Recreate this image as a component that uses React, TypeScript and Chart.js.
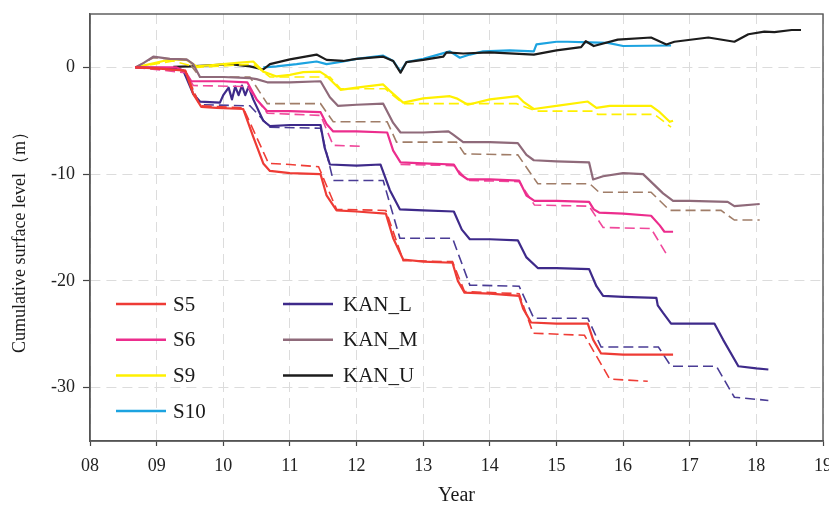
import React, { useEffect, useRef } from "react";
import { Chart, registerables } from "chart.js";

Chart.register(...registerables);

type P = [number, number | null];

// x = year offset (8 => 2008), y = cumulative surface level (m)
const S5: P[] = [[8.68,0],[9.0,-0.1],[9.43,-0.3],[9.55,-2.5],[9.67,-3.7],[9.9,-3.8],[10.3,-3.9],[10.45,-6.5],[10.6,-9.0],[10.7,-9.7],[11.0,-9.9],[11.46,-10.0],[11.55,-12.0],[11.7,-13.4],[12.0,-13.5],[12.44,-13.7],[12.55,-16.0],[12.7,-18.0],[13.0,-18.2],[13.44,-18.3],[13.52,-20.0],[13.62,-21.1],[14.0,-21.2],[14.44,-21.4],[14.5,-22.6],[14.62,-23.9],[15.0,-24.0],[15.47,-24.0],[15.55,-25.5],[15.67,-26.8],[16.0,-26.9],[16.75,-26.9]];
const S5_MODEL: P[] = [[8.68,0],[9.43,-0.3],[9.65,-3.6],[10.3,-3.8],[10.68,-9.0],[11.0,-9.1],[11.43,-9.3],[11.7,-13.3],[12.44,-13.4],[12.7,-18.1],[13.44,-18.2],[13.62,-21.0],[14.44,-21.2],[14.65,-24.9],[15.42,-25.1],[15.8,-29.2],[16.37,-29.4]];

const S6: P[] = [[8.68,0],[9.3,0],[9.43,-0.4],[9.52,-1.3],[10.0,-1.3],[10.36,-1.4],[10.5,-3.0],[10.66,-4.1],[11.0,-4.1],[11.46,-4.2],[11.55,-5.3],[11.65,-6.0],[12.0,-6.0],[12.46,-6.1],[12.55,-7.8],[12.66,-8.9],[13.0,-9.0],[13.46,-9.1],[13.55,-10.0],[13.67,-10.5],[14.0,-10.5],[14.44,-10.6],[14.55,-12.0],[14.67,-12.5],[15.0,-12.5],[15.49,-12.6],[15.56,-13.3],[15.64,-13.6],[16.0,-13.7],[16.42,-13.9],[16.55,-14.8],[16.62,-15.4],[16.75,-15.4]];
const S6_MODEL: P[] = [[8.68,0],[9.43,-0.5],[9.55,-1.7],[10.36,-1.8],[10.66,-4.3],[11.46,-4.5],[11.65,-7.3],[12.1,-7.4],[12.3,null],[12.66,-9.1],[13.46,-9.2],[13.67,-10.6],[14.44,-10.7],[14.67,-12.9],[15.49,-13.0],[15.7,-15.0],[16.42,-15.1],[16.68,-17.8]];

const S9: P[] = [[8.68,0],[8.9,0.3],[9.1,0.6],[9.25,0.75],[9.45,0.7],[9.6,0.1],[9.8,0.2],[10.0,0.3],[10.25,0.45],[10.45,0.55],[10.6,-0.4],[10.8,-0.85],[11.0,-0.7],[11.2,-0.45],[11.45,-0.4],[11.55,-0.8],[11.76,-2.1],[12.0,-1.9],[12.4,-1.6],[12.5,-2.2],[12.7,-3.3],[13.0,-2.9],[13.4,-2.7],[13.5,-2.9],[13.67,-3.5],[14.0,-3.0],[14.42,-2.7],[14.5,-3.2],[14.66,-3.9],[15.0,-3.6],[15.47,-3.2],[15.6,-3.8],[15.8,-3.6],[16.42,-3.6],[16.55,-4.2],[16.7,-5.1],[16.75,-5.0]];
const S9_MODEL: P[] = [[8.68,0],[9.25,0.6],[9.6,0.0],[10.45,0.3],[10.7,-0.9],[11.6,-0.9],[11.76,-2.0],[12.43,-2.0],[12.7,-3.4],[14.4,-3.4],[14.7,-4.1],[15.55,-4.1],[15.62,-4.4],[16.47,-4.4],[16.72,-5.6]];

const S10: P[] = [[10.6,0],[10.8,0.1],[11.1,0.3],[11.4,0.55],[11.55,0.3],[11.76,0.5],[12.0,0.8],[12.4,1.1],[12.55,0.6],[12.66,-0.4],[12.75,0.5],[13.0,0.8],[13.4,1.5],[13.55,0.9],[13.7,1.2],[13.9,1.5],[14.3,1.6],[14.66,1.5],[14.7,2.15],[15.0,2.4],[15.17,2.4],[15.5,2.35],[15.77,2.3],[16.0,2.0],[16.72,2.05]];

const KAN_L: P[] = [[8.68,0],[9.3,-0.1],[9.4,-0.3],[9.55,-2.5],[9.65,-3.2],[9.95,-3.3],[10.0,-2.6],[10.08,-1.9],[10.13,-3.0],[10.18,-1.8],[10.23,-2.6],[10.28,-1.7],[10.33,-2.6],[10.38,-1.8],[10.45,-3.0],[10.6,-5.0],[10.7,-5.5],[11.0,-5.4],[11.46,-5.4],[11.52,-7.5],[11.6,-9.1],[12.0,-9.2],[12.36,-9.1],[12.5,-11.5],[12.65,-13.3],[13.0,-13.4],[13.46,-13.5],[13.58,-15.2],[13.7,-16.1],[14.0,-16.1],[14.42,-16.2],[14.55,-17.8],[14.72,-18.8],[15.0,-18.8],[15.49,-18.9],[15.6,-20.5],[15.7,-21.4],[16.0,-21.5],[16.5,-21.6],[16.52,-22.3],[16.6,-23.0],[16.72,-24.0],[17.0,-24.0],[17.37,-24.0],[17.5,-25.5],[17.73,-28.0],[18.0,-28.2],[18.18,-28.3]];
const KAN_L_MODEL: P[] = [[8.68,0],[9.4,-0.3],[9.65,-3.5],[10.4,-3.6],[10.7,-5.6],[11.46,-5.7],[11.65,-10.6],[12.4,-10.6],[12.65,-16.0],[13.44,-16.0],[13.7,-20.4],[14.44,-20.5],[14.66,-23.5],[15.47,-23.5],[15.67,-26.2],[16.53,-26.2],[16.72,-28.0],[17.4,-28.0],[17.67,-30.9],[18.18,-31.2]];

const KAN_M: P[] = [[8.68,0],[8.8,0.4],[8.95,1.0],[9.2,0.8],[9.45,0.75],[9.55,0.3],[9.65,-0.9],[10.0,-0.9],[10.4,-1.0],[10.5,-1.1],[10.66,-1.4],[11.0,-1.4],[11.46,-1.3],[11.6,-2.8],[11.72,-3.6],[12.0,-3.5],[12.4,-3.4],[12.55,-5.2],[12.66,-6.1],[13.0,-6.1],[13.38,-6.0],[13.45,-6.3],[13.6,-7.0],[14.0,-7.0],[14.42,-7.1],[14.55,-8.2],[14.66,-8.7],[15.0,-8.8],[15.49,-8.9],[15.55,-10.5],[15.7,-10.2],[16.0,-9.9],[16.3,-10.0],[16.6,-11.8],[16.75,-12.5],[17.0,-12.5],[17.57,-12.6],[17.67,-13.0],[18.05,-12.8]];
const KAN_M_MODEL: P[] = [[8.68,0],[8.95,0.9],[9.45,0.7],[9.65,-0.9],[10.4,-0.9],[10.66,-3.4],[11.46,-3.4],[11.65,-5.1],[12.46,-5.1],[12.6,-7.0],[13.5,-7.0],[13.62,-8.1],[14.42,-8.2],[14.72,-10.9],[15.5,-10.9],[15.64,-11.7],[16.42,-11.7],[16.7,-13.4],[17.47,-13.4],[17.67,-14.3],[18.05,-14.3]];

const KAN_U: P[] = [[9.25,0.05],[9.5,0.1],[9.8,0.2],[10.1,0.3],[10.4,0.1],[10.6,-0.2],[10.7,0.3],[11.0,0.75],[11.4,1.2],[11.55,0.7],[11.8,0.6],[12.0,0.8],[12.4,1.0],[12.55,0.6],[12.66,-0.5],[12.75,0.5],[13.0,0.7],[13.3,1.0],[13.35,1.4],[13.6,1.3],[14.0,1.4],[14.66,1.2],[15.0,1.6],[15.37,1.9],[15.44,2.45],[15.56,2.0],[15.92,2.6],[16.42,2.8],[16.65,2.15],[16.77,2.4],[17.28,2.8],[17.67,2.4],[17.88,3.1],[18.12,3.35],[18.27,3.3],[18.53,3.5],[18.67,3.5]];

const X_TICKS = [8, 9, 10, 11, 12, 13, 14, 15, 16, 17, 18, 19];
const X_TICK_LABELS = ["08", "09", "10", "11", "12", "13", "14", "15", "16", "17", "18", "19"];
const Y_TICKS = [-30, -20, -10, 0];

const LEGEND_NAMES = ["S5", "S6", "S9", "S10", "KAN_L", "KAN_M", "KAN_U"];
const COLORS: Record<string, string> = {
  S5: "#ee3b35",
  S6: "#ec2d8d",
  S9: "#fff000",
  S10: "#1ca3e0",
  KAN_L: "#3e2a8a",
  KAN_M: "#8f6a7a",
  KAN_U: "#1c1c1c",
};
const MODEL_COLORS: Record<string, string> = {
  S5: "#ef3d36",
  S6: "#f0489b",
  S9: "#fff000",
  KAN_L: "#4a3c95",
  KAN_M: "#a07d68",
};

const SERIF = '"Liberation Serif", "Times New Roman", serif';

export default function App() {
  const ref = useRef<HTMLCanvasElement | null>(null);

  useEffect(() => {
    document.body.style.margin = "0";
    const canvas = ref.current;
    if (!canvas) return;

    const solid = (label: string, data: P[]) => ({
      label,
      data,
      borderColor: COLORS[label],
      backgroundColor: COLORS[label],
      borderWidth: 2.2,
      pointRadius: 0,
      tension: 0,
      spanGaps: false,
      borderJoinStyle: "round" as const,
    });
    const model = (label: string, data: P[]) => ({
      label: label + " model",
      data,
      borderColor: MODEL_COLORS[label],
      backgroundColor: MODEL_COLORS[label],
      borderWidth: 1.6,
      borderDash: [10, 5],
      pointRadius: 0,
      tension: 0,
      spanGaps: false,
    });

    const legendPlugin = {
      id: "cornerLegend",
      afterDraw(chart: any) {
        const ctx = chart.ctx as CanvasRenderingContext2D;
        ctx.save();
        ctx.font = `21px ${SERIF}`;
        ctx.textBaseline = "middle";
        ctx.textAlign = "left";
        const lineX = [116, 283];
        const textX = [173, 343];
        LEGEND_NAMES.forEach((name, i) => {
          const col = i < 4 ? 0 : 1;
          const row = i < 4 ? i : i - 4;
          const y = 304 + row * 35.7;
          ctx.strokeStyle = COLORS[name];
          ctx.lineWidth = 2.5;
          ctx.setLineDash([]);
          ctx.beginPath();
          ctx.moveTo(lineX[col], y);
          ctx.lineTo(lineX[col] + 50, y);
          ctx.stroke();
          ctx.fillStyle = "#1a1a1a";
          ctx.fillText(name, textX[col], y + 1);
        });
        // frame around plot
        const a = chart.chartArea;
        ctx.strokeStyle = "#555";
        ctx.lineWidth = 1.4;
        ctx.strokeRect(a.left, a.top, a.right - a.left, a.bottom - a.top);
        // y title
        ctx.translate(20, 238);
        ctx.rotate(-Math.PI / 2);
        ctx.textAlign = "center";
        ctx.font = `18px ${SERIF}`;
        ctx.fillText("Cumulative surface level（m）", 0, 0);
        ctx.restore();
      },
    };

    const chart = new Chart(canvas, {
      type: "line",
      data: {
        datasets: [
          solid("S5", S5),
          model("S5", S5_MODEL),
          solid("S6", S6),
          model("S6", S6_MODEL),
          solid("KAN_L", KAN_L),
          model("KAN_L", KAN_L_MODEL),
          solid("KAN_M", KAN_M),
          model("KAN_M", KAN_M_MODEL),
          solid("S9", S9),
          model("S9", S9_MODEL),
          solid("KAN_U", KAN_U),
          solid("S10", S10),
        ] as any,
      },
      options: {
        responsive: false,
        animation: false,
        devicePixelRatio: 1,
        layout: { padding: { left: 0, right: 6, top: 14, bottom: 0 } },
        plugins: {
          legend: { display: false },
          tooltip: { enabled: false },
        },
        scales: {
          x: {
            type: "linear",
            min: 8,
            max: 19,
            afterBuildTicks: (s: any) => {
              s.ticks = X_TICKS.map((v) => ({ value: v }));
            },
            afterFit: (s: any) => {
              s.height = 67;
              s.paddingLeft = 0;
              s.paddingRight = 0;
            },
            ticks: {
              autoSkip: false,
              maxRotation: 0,
              padding: 9,
              color: "#222",
              font: { family: SERIF, size: 18 },
              callback: (v: any) => {
                const i = X_TICKS.indexOf(Number(v));
                return i >= 0 ? X_TICK_LABELS[i] : "";
              },
            },
            grid: {
              color: "#dcdcdc",
              lineWidth: 1,
              tickColor: "#444",
              tickLength: 5,
              tickWidth: 1.2,
              tickBorderDash: [],
            },
            border: { display: true, color: "#555", width: 1.4, dash: [10, 6] },
            title: {
              display: true,
              text: "Year",
              color: "#1a1a1a",
              font: { family: SERIF, size: 20 },
              padding: { top: 0, bottom: 0 },
            },
          },
          y: {
            type: "linear",
            min: -35,
            max: 5,
            afterBuildTicks: (s: any) => {
              s.ticks = Y_TICKS.map((v) => ({ value: v }));
            },
            afterFit: (s: any) => {
              s.width = 90;
              s.paddingTop = 0;
              s.paddingBottom = 0;
            },
            ticks: {
              autoSkip: false,
              padding: 8,
              color: "#222",
              font: { family: SERIF, size: 18 },
            },
            grid: {
              color: "#dcdcdc",
              lineWidth: 1,
              tickColor: "#444",
              tickLength: 7,
              tickWidth: 1.2,
              tickBorderDash: [],
            },
            border: { display: true, color: "#555", width: 1.4, dash: [10, 6] },
          },
        },
      } as any,
      plugins: [legendPlugin],
    });

    return () => chart.destroy();
  }, []);

  return (
    <div style={{ width: 829, height: 508 }}>
      <canvas ref={ref} width={829} height={508} style={{ display: "block" }} />
    </div>
  );
}
